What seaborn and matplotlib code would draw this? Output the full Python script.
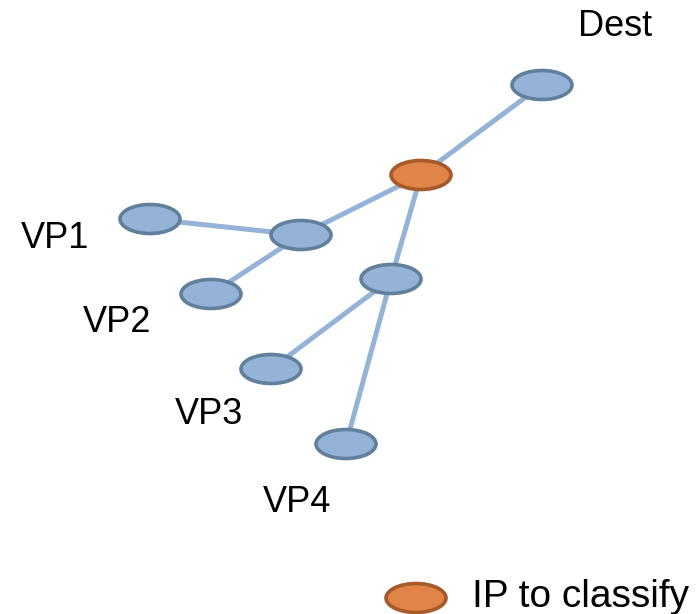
import matplotlib
matplotlib.use("Agg")
import matplotlib.pyplot as plt
from matplotlib.patches import Ellipse
import seaborn as sns
import pandas as pd

# node positions (pixel-like diagram coordinates)
node_names = ["Dest", "IP", "VP1", "hub1", "VP2", "hub2", "VP3", "VP4"]
node_x = [542, 421, 150, 301, 211, 391, 271, 346]
node_y = [85, 175, 219, 235, 294, 279, 369, 444]
node_kind = ["other", "target", "other", "other", "other", "other", "other", "other"]

edge_from = ["Dest", "IP", "IP", "VP1", "VP2", "hub2", "hub2"]
edge_to = ["IP", "hub1", "hub2", "hub1", "hub1", "VP3", "VP4"]

label_text = ["Dest", "VP1", "VP2", "VP3", "VP4"]
label_x = [615, 55, 117, 209, 297]
label_y = [27, 238, 323, 415, 503]

legend_text = "IP to classify"

sns.set_theme(style="white")
plt.rcParams["font.family"] = ["Liberation Sans", "DejaVu Sans"]

fig = plt.figure(figsize=(6.99, 6.14), dpi=100)
ax = fig.add_axes([0, 0, 1, 1])
ax.set_xlim(0, 699)
ax.set_ylim(614, 0)
ax.axis("off")

pos = {n: (x, y) for n, x, y in zip(node_names, node_x, node_y)}
for a, b in zip(edge_from, edge_to):
    seg = pd.DataFrame({"x": [pos[a][0], pos[b][0]], "y": [pos[a][1], pos[b][1]]})
    sns.lineplot(data=seg, x="x", y="y", sort=False, color="#95b3d7",
                 linewidth=3.6, ax=ax, zorder=1)

styles = {"other": ("#95b3d7", "#60809c"), "target": ("#e0844a", "#a65a2a")}
for n, x, y, k in zip(node_names, node_x, node_y, node_kind):
    fc, ec = styles[k]
    ax.add_patch(Ellipse((x, y), 60, 29, facecolor=fc, edgecolor=ec,
                         linewidth=2.6, zorder=3))

for t, x, y in zip(label_text, label_x, label_y):
    ax.text(x, y, t, fontsize=26, ha="center", va="center", color="black")

# legend
fc, ec = styles["target"]
ax.add_patch(Ellipse((416, 598), 60, 29, facecolor=fc, edgecolor=ec,
                     linewidth=2.6, zorder=3))
ax.text(472, 597, legend_text, fontsize=28, ha="left", va="center", color="black")

ax.set_xlabel("")
ax.set_ylabel("")
fig.savefig("out.png", dpi=100)
